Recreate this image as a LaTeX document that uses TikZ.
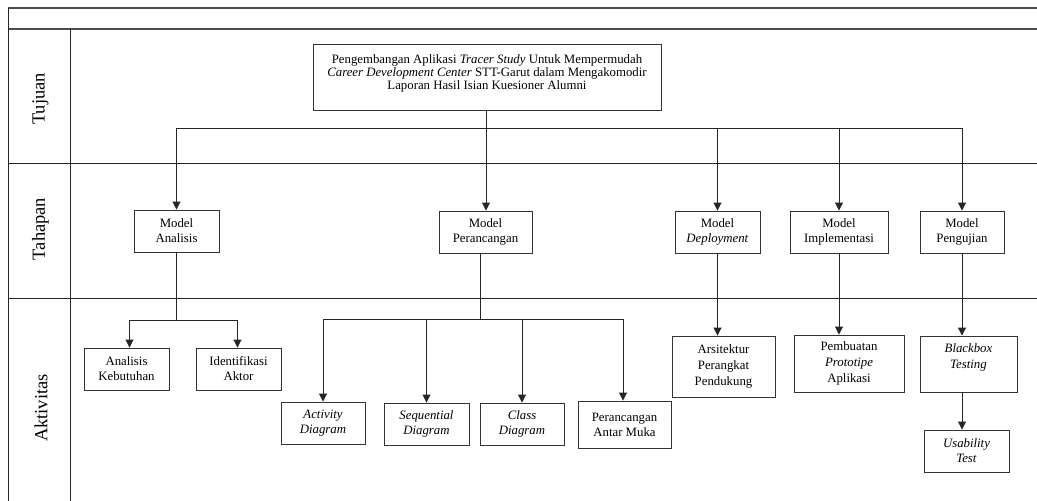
\documentclass[tikz,border=0pt]{standalone}
\usepackage{fontspec}
\setmainfont{Liberation Serif}
\usetikzlibrary{arrows.meta,calc}
\tikzset{
  box/.style={draw=black!80, line width=0.9pt, rectangle, align=center, inner sep=2pt,
    font=\fontsize{12.8}{15}\selectfont, minimum height=42pt},
  boxtall/.style={box, font=\fontsize{12.8}{16}\selectfont},
  boxgoal/.style={box, font=\fontsize{12.8}{12.8}\selectfont},
  arr/.style={draw=black!85, line width=0.9pt, -{Triangle[length=8pt,width=8pt]}},
  ln/.style={draw=black!85, line width=0.9pt},
  frameline/.style={draw=black!85, line width=1pt},
  lane/.style={rotate=90, font=\fontsize{18.5}{20}\selectfont}
}
\begin{document}
\begin{tikzpicture}[x=1pt,y=-1pt]
\useasboundingbox (0,0) rectangle (1037,501);
% frame
\draw[frameline, draw=black!70, line width=1.2pt] (8,8) -- (1037,8);
\draw[frameline, draw=black!70, line width=1.2pt] (8,29) -- (1037,29);
\draw[frameline] (8,163) -- (1037,163);
\draw[frameline] (8,298) -- (1037,298);
\draw[frameline] (8,8) -- (8,501);
\draw[frameline] (70,29) -- (70,501);
% lane labels
\node[lane] (tujuan) at (40.5,99) {Tujuan};
\node[lane] (tahapan) at (40.5,229) {Tahapan};
\node[lane] (aktivitas) at (41,408) {Aktivitas};
% goal
\node[boxgoal, minimum width=348pt, minimum height=66pt] (goal) at (487,77)
  {Pengembangan Aplikasi \textit{Tracer Study} Untuk Mempermudah\\
   \textit{Career Development Center} STT-Garut dalam Mengakomodir\\
   Laporan Hasil Isian Kuesioner Alumni\\[-3pt] \mbox{}};
% tahapan
\node[box, minimum width=85pt] (ma) at (176.5,231) {Model\\Analisis};
\node[box, minimum width=93pt] (mp) at (485.5,232) {Model\\Perancangan};
\node[box, minimum width=85pt] (md) at (717.5,232) {Model\\\textit{Deployment}};
\node[box, minimum width=98pt] (mi) at (839,232) {Model\\Implementasi};
\node[box, minimum width=84pt] (mu) at (962,232) {Model\\Pengujian};
\coordinate (j1) at (486,128);
\draw[ln] (goal.south -| j1) -- (j1);
\draw[arr] (j1) -| (ma.north);
\draw[arr] (j1) -- (j1 |- mp.north);
\draw[arr] (j1) -| (md.north);
\draw[arr] (j1) -| (mi.north);
\draw[arr] (j1) -| (mu.north);
% aktivitas: analisis
\node[box, minimum width=85pt] (ak) at (126.5,369) {Analisis\\Kebutuhan};
\node[box, minimum width=85pt] (ia) at (238.5,369) {Identifikasi\\Aktor};
\coordinate (j2) at (176.5,320);
\draw[ln] (ma.south) -- (j2);
\draw[arr] (j2) -| ([xshift=3pt]ak.north);
\draw[arr] (j2) -| ([xshift=-1pt]ia.north);
% aktivitas: perancangan
\node[box, minimum width=84pt] (ad) at (323,423) {\textit{Activity}\\\textit{Diagram}};
\node[box, minimum width=85pt] (sd) at (426.5,424) {\textit{Sequential}\\\textit{Diagram}};
\node[box, minimum width=84pt] (cd) at (522,424) {\textit{Class}\\\textit{Diagram}};
\node[box, minimum width=93pt, minimum height=47pt] (pam) at (624.5,424.5) {Perancangan\\Antar Muka};
\coordinate (j3) at (480,319);
\draw[ln] (mp.south -| j3) -- (j3);
\draw[arr] (j3) -| (ad.north);
\draw[arr] (j3) -| (sd.north);
\draw[arr] (j3) -| (cd.north);
\draw[arr] (j3) -| ([xshift=-1.5pt]pam.north);
% aktivitas: deployment, implementasi, pengujian
\node[boxtall, minimum width=103pt, minimum height=61pt] (ap) at (723.5,366.5) {Arsitektur\\Perangkat\\Pendukung};
\node[boxtall, minimum width=110pt, minimum height=57pt] (pp) at (849,363.5) {Pembuatan\\\textit{Prototipe}\\Aplikasi};
\node[boxtall, minimum width=97pt, minimum height=56pt] (bt) at (968.5,364) {\textit{Blackbox}\\\textit{Testing}\\\mbox{}};
\node[box, minimum width=85pt] (ut) at (966.5,451) {\textit{Usability}\\\textit{Test}};
\draw[arr] (md.south) -- (md.south |- ap.north);
\draw[arr] (mi.south) -- (mi.south |- pp.north);
\draw[arr] (mu.south) -- (mu.south |- bt.north);
\draw[arr] (bt.south -| mu.south) -- (mu.south |- ut.north);
\end{tikzpicture}
\end{document}
